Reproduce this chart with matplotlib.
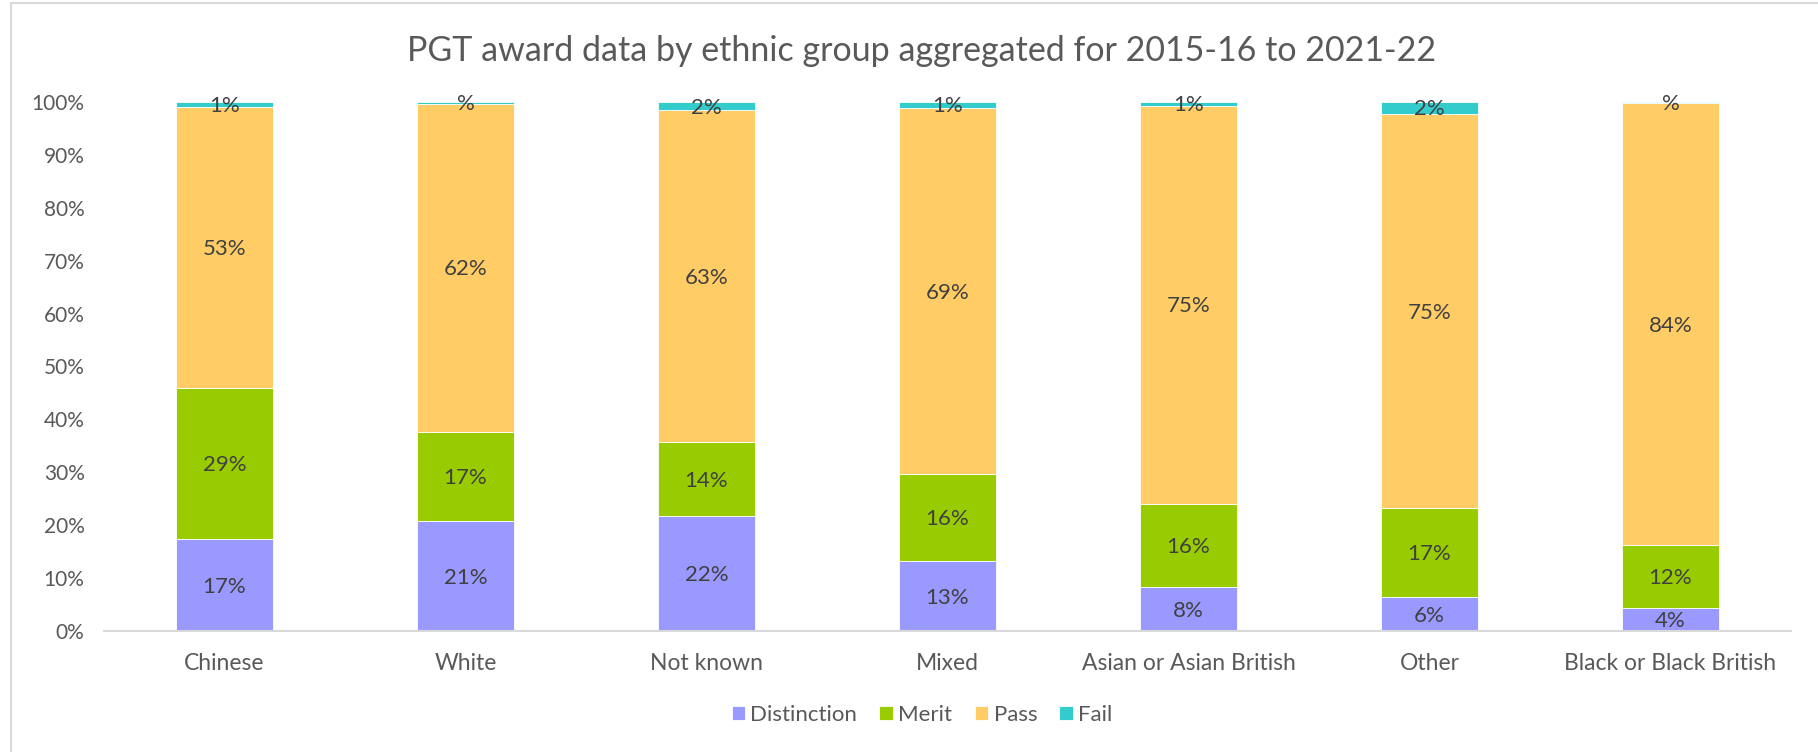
import matplotlib.pyplot as plt
from matplotlib.patches import Rectangle
import numpy as np

plt.rcParams['font.family'] = ['Lato', 'DejaVu Sans']

categories = ["Chinese", "White", "Not known", "Mixed",
              "Asian or Asian British", "Other", "Black or Black British"]
distinction = [17.3, 20.8, 21.7, 13.2, 8.3, 6.4, 4.4]
merit = [28.6, 16.9, 14.0, 16.4, 15.8, 16.8, 11.8]
passed = [53.2, 62.0, 62.7, 69.3, 75.2, 74.6, 83.6]
fail = [0.9, 0.3, 1.6, 1.1, 0.7, 2.2, 0.2]

series = [("Distinction", distinction, "#9999FF"),
          ("Merit", merit, "#99CC00"),
          ("Pass", passed, "#FFCC66"),
          ("Fail", fail, "#33CCCC")]

text_col = "#404040"
tick_col = "#595959"

fig = plt.figure(figsize=(18.18, 7.52), dpi=100)
ax = fig.add_axes([104 / 1818, 1 - 631 / 752, (1791 - 104) / 1818, (631 - 102) / 752])

# chart area border, as in the Excel export (runs off the right/bottom)
fig.patches.append(Rectangle((11 / 1818, -0.1), 1.2, 1 - 3 / 752 + 0.1,
                             transform=fig.transFigure, fill=False,
                             edgecolor="#d9d9d9", linewidth=1.5))

x = np.arange(len(categories))
bottom = np.zeros(len(categories))
for name, vals, col in series:
    vals = np.array(vals)
    ax.bar(x, vals, 0.40, bottom=bottom, color=col, label=name,
           edgecolor="white", linewidth=0.6)
    for xi, b, v in zip(x, bottom, vals):
        r = int(round(v))
        lab = f"{r}%" if r > 0 else "%"
        ax.text(xi, b + v / 2 - 0.3, lab, ha="center", va="center",
                fontsize=16, color=text_col)
    bottom += vals

ax.set_xlim(-0.5, len(categories) - 0.5)
ax.set_ylim(0, 100)
ax.set_yticks(np.arange(0, 101, 10))
ax.set_yticklabels([f"{t}%" for t in range(0, 101, 10)])
ax.set_xticks(x)
ax.set_xticklabels(categories)
ax.tick_params(axis="both", length=0, colors=tick_col)
ax.tick_params(axis="x", pad=16, labelsize=16.5)
ax.tick_params(axis="y", pad=14, labelsize=15)
for s in ["top", "right", "left"]:
    ax.spines[s].set_visible(False)
ax.spines["bottom"].set_color("#d9d9d9")
ax.spines["bottom"].set_linewidth(1.5)

fig.text(922 / 1818, 1 - 51 / 752,
         "PGT award data by ethnic group aggregated for 2015-16 to 2021-22",
         ha="center", va="center", fontsize=24.5, color=tick_col)

fig.legend(loc="center", bbox_to_anchor=(922 / 1818, 1 - 715 / 752), ncol=4,
           frameon=False, fontsize=16, handlelength=0.6, handleheight=0.6,
           handletextpad=0.25, columnspacing=1.0, labelcolor=tick_col)

fig.savefig("out.png", dpi=100)
